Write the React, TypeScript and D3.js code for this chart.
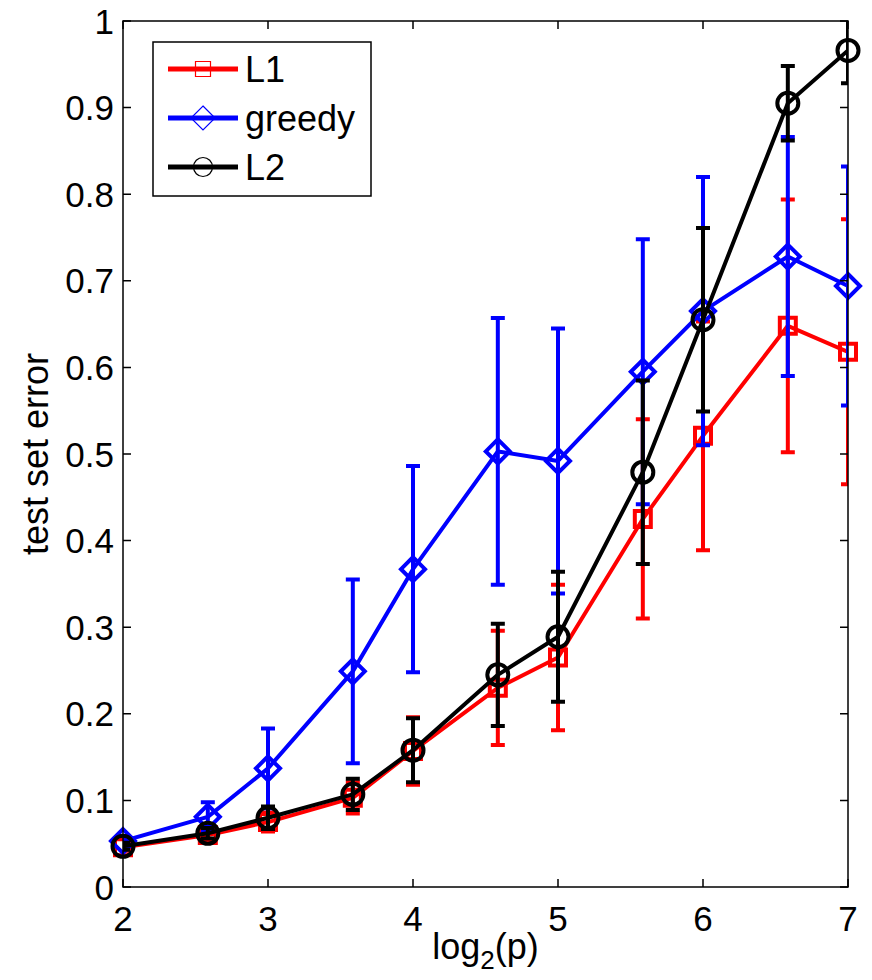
import React, { useEffect, useRef } from "react";
import * as d3 from "d3";

// Problem sizes p; the x axis shows log2(p)
const pValues = [4, 6, 8, 12, 16, 24, 32, 48, 64, 96, 128];

// Mean test set error for each method, with symmetric error bar half-lengths
const l1Mean = [0.046, 0.06, 0.075, 0.103, 0.157, 0.23, 0.265, 0.425, 0.521, 0.648, 0.618];
const l1Err = [0.004, 0.005, 0.011, 0.018, 0.039, 0.066, 0.084, 0.115, 0.132, 0.146, 0.153];

const greedyMean = [0.053, 0.081, 0.137, 0.249, 0.367, 0.503, 0.492, 0.595, 0.665, 0.728, 0.694];
const greedyErr = [0.005, 0.017, 0.046, 0.106, 0.119, 0.154, 0.153, 0.153, 0.155, 0.138, 0.138];

const l2Mean = [0.047, 0.062, 0.08, 0.107, 0.158, 0.245, 0.289, 0.479, 0.655, 0.905, 0.966];
const l2Err = [0.004, 0.006, 0.013, 0.018, 0.037, 0.059, 0.075, 0.106, 0.106, 0.043, 0.038];

const xTicks = [2, 3, 4, 5, 6, 7];
const yTicks = [0, 0.1, 0.2, 0.3, 0.4, 0.5, 0.6, 0.7, 0.8, 0.9, 1];

const seriesNames = ["L1", "greedy", "L2"];

const W = 872;
const H = 980;
const plot = { left: 123, right: 848, top: 21, bottom: 887 };
const FONT = "'Liberation Sans', Arial, Helvetica, sans-serif";

type Marker = "square" | "diamond" | "circle";

function markerPath(kind: Marker, size: number): string {
  const h = size / 2;
  if (kind === "square") return `M${-h},${-h}H${h}V${h}H${-h}Z`;
  if (kind === "diamond") return `M0,${-h}L${h},0L0,${h}L${-h},0Z`;
  const p = d3.path();
  p.arc(0, 0, h, 0, Math.PI * 2);
  p.closePath();
  return p.toString();
}

export default function App() {
  const ref = useRef<SVGSVGElement | null>(null);

  useEffect(() => {
    const svg = d3.select(ref.current);
    svg.selectAll("*").remove();

    const x = d3.scaleLinear().domain([2, 7]).range([plot.left, plot.right]);
    const y = d3.scaleLinear().domain([0, 1]).range([plot.bottom, plot.top]);
    const xs = pValues.map((p) => Math.log2(p));

    svg
      .append("defs")
      .append("clipPath")
      .attr("id", "plot-clip")
      .append("rect")
      .attr("x", plot.left)
      .attr("y", plot.top)
      .attr("width", plot.right - plot.left)
      .attr("height", plot.bottom - plot.top);

    svg.append("rect").attr("width", W).attr("height", H).attr("fill", "#fff");

    const series = [
      { name: seriesNames[0], mean: l1Mean, err: l1Err, color: "#ff0000", marker: "square" as Marker, size: 16 },
      { name: seriesNames[1], mean: greedyMean, err: greedyErr, color: "#0000ff", marker: "diamond" as Marker, size: 24 },
      { name: seriesNames[2], mean: l2Mean, err: l2Err, color: "#000000", marker: "circle" as Marker, size: 21 },
    ];

    const lineGen = d3
      .line<number>()
      .x((_, i) => x(xs[i]))
      .y((v) => y(v));

    const tee = 7;
    const lw = 4;

    series.forEach((s) => {
      const g = svg.append("g");
      // error bars, clipped to the axes box
      const eb = g.append("g").attr("clip-path", "url(#plot-clip)").attr("stroke", s.color).attr("stroke-width", lw).attr("fill", "none");
      s.mean.forEach((m, i) => {
        const cx = x(xs[i]);
        const lo = y(m - s.err[i]);
        const hi = y(m + s.err[i]);
        eb.append("path").attr("d", `M${cx},${lo}V${hi}M${cx - tee},${lo}H${cx + tee}M${cx - tee},${hi}H${cx + tee}`);
      });
      g.append("path")
        .attr("d", lineGen(s.mean) as string)
        .attr("clip-path", "url(#plot-clip)")
        .attr("fill", "none")
        .attr("stroke", s.color)
        .attr("stroke-width", lw)
        .attr("stroke-linejoin", "round");
      g.selectAll("path.mk")
        .data(s.mean)
        .enter()
        .append("path")
        .attr("class", "mk")
        .attr("transform", (v, i) => `translate(${x(xs[i])},${y(v)})`)
        .attr("d", markerPath(s.marker, s.size))
        .attr("fill", "none")
        .attr("stroke", s.color)
        .attr("stroke-width", lw);
    });

    // axes box with inward ticks on all sides
    const ax = svg.append("g").attr("stroke", "#000").attr("stroke-width", 1.5).attr("fill", "none");
    ax.append("rect")
      .attr("x", plot.left)
      .attr("y", plot.top)
      .attr("width", plot.right - plot.left)
      .attr("height", plot.bottom - plot.top);
    const tl = 8;
    xTicks.forEach((t) => {
      const px = x(t);
      ax.append("path").attr("d", `M${px},${plot.bottom}V${plot.bottom - tl}M${px},${plot.top}V${plot.top + tl}`);
    });
    yTicks.forEach((t) => {
      const py = y(t);
      ax.append("path").attr("d", `M${plot.left},${py}H${plot.left + tl}M${plot.right},${py}H${plot.right - tl}`);
    });

    const txt = svg.append("g").attr("font-family", FONT).attr("fill", "#000");
    xTicks.forEach((t) => {
      txt.append("text")
        .attr("x", x(t))
        .attr("y", plot.bottom + 44)
        .attr("text-anchor", "middle")
        .attr("font-size", 35)
        .text(d3.format("d")(t));
    });
    yTicks.forEach((t) => {
      txt.append("text")
        .attr("x", plot.left - 9)
        .attr("y", y(t))
        .attr("dy", "0.36em")
        .attr("text-anchor", "end")
        .attr("font-size", 35)
        .text(t === 0 || t === 1 ? String(t) : d3.format(".1f")(t));
    });

    // axis titles
    const xl = txt.append("text")
      .attr("x", (plot.left + plot.right) / 2)
      .attr("y", 959)
      .attr("text-anchor", "middle")
      .attr("font-size", 36);
    xl.append("tspan").text("log");
    xl.append("tspan").attr("font-size", 26).attr("dy", 10).text("2");
    xl.append("tspan").attr("dy", -10).text("(p)");

    txt.append("text")
      .attr("transform", `translate(48,${(plot.top + plot.bottom) / 2}) rotate(-90)`)
      .attr("text-anchor", "middle")
      .attr("font-size", 36)
      .text("test set error");

    // legend
    const lg = svg.append("g");
    lg.append("rect")
      .attr("x", 153)
      .attr("y", 42)
      .attr("width", 218)
      .attr("height", 154)
      .attr("fill", "#fff")
      .attr("stroke", "#000")
      .attr("stroke-width", 1.5);
    const rowY = [69, 118, 167];
    const legendSizes = [15, 24, 19];
    series.forEach((s, i) => {
      const ry = rowY[i];
      lg.append("path")
        .attr("d", `M168,${ry}H238`)
        .attr("stroke", s.color)
        .attr("stroke-width", 5);
      lg.append("path")
        .attr("transform", `translate(203,${ry})`)
        .attr("d", markerPath(s.marker, legendSizes[i]))
        .attr("fill", "none")
        .attr("stroke", s.color)
        .attr("stroke-width", 1.2);
      lg.append("text")
        .attr("x", 245)
        .attr("y", ry)
        .attr("dy", "0.36em")
        .attr("font-family", FONT)
        .attr("font-size", 36)
        .text(s.name);
    });
  }, []);

  return (
    <div style={{ position: "absolute", left: 0, top: 0 }}>
      <svg ref={ref} width={W} height={H} style={{ display: "block" }} />
    </div>
  );
}
